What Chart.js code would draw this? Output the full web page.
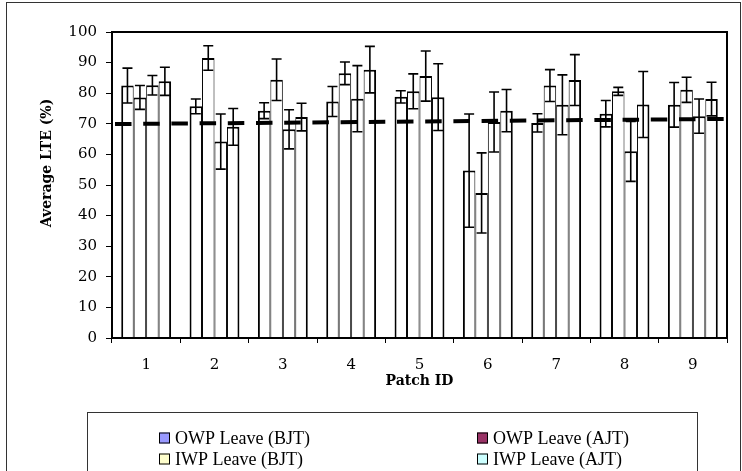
<!DOCTYPE html>
<html>
<head>
<meta charset="utf-8">
<script src="https://cdn.jsdelivr.net/npm/chart.js@4"></script>
<style>
  body { margin: 0; background: #fff; }
</style>
</head>
<body>
<canvas id="lteChart" width="742" height="471"></canvas>
<script>
const patches = ['1', '2', '3', '4', '5', '6', '7', '8', '9'];
const seriesNames = ['OWP Leave (BJT)', 'OWP Leave (AJT)', 'IWP Leave (BJT)', 'IWP Leave (AJT)'];
const legendColors = ['#9999FF', '#993366', '#FFFFCC', '#CCFFFF'];

const owpBjt = [82.5, 75.7, 74.3, 77.3, 78.8, 54.7, 70.3, 73.3, 76.2];
const owpAjt = [78.6, 91.5, 84.4, 86.5, 80.6, 47.4, 82.5, 80.6, 81.1];
const iwpBjt = [82.6, 64.2, 68.2, 78.2, 85.6, 70.6, 76.2, 61.0, 72.5];
const iwpAjt = [83.9, 69.0, 72.2, 87.7, 78.7, 74.3, 84.3, 76.3, 78.1];

const owpBjtErr = [5.7, 2.4, 2.6, 4.9, 2.0, 18.5, 3.0, 4.3, 7.3];
const owpAjtErr = [3.9, 4.0, 6.8, 3.7, 5.7, 13.1, 5.2, 1.3, 4.1];
const iwpBjtErr = [3.2, 9.0, 6.4, 10.8, 8.2, 9.8, 9.8, 9.8, 5.6];
const iwpAjtErr = [4.6, 6.0, 4.5, 7.6, 10.9, 6.9, 8.3, 10.8, 5.5];

// dashed reference line: value at the left and at the right edge of the plot
const refLineY = [69.9, 71.6];

const yTicks = [0, 10, 20, 30, 40, 50, 60, 70, 80, 90, 100];

const barValues = [owpBjt, owpAjt, iwpBjt, iwpAjt];
const barErrors = [owpBjtErr, owpAjtErr, iwpBjtErr, iwpAjtErr];

Chart.defaults.font.family = 'DejaVu Serif';
Chart.defaults.color = '#000';

const borders = [
  {left: 2, right: 1, top: 2, bottom: 0},
  {left: 1, right: 1, top: 2, bottom: 0},
  {left: 1, right: 1, top: 2, bottom: 0},
  {left: 1, right: 2, top: 2, bottom: 0}
];

const barSets = barValues.map(function (vals, i) {
  return {
    label: seriesNames[i],
    data: vals,
    backgroundColor: '#fff',
    borderColor: '#000',
    borderWidth: borders[i],
    borderSkipped: false,
    categoryPercentage: 0.73,
    barPercentage: 1.0
  };
});

const frameAndText = {
  id: 'frameAndText',
  beforeDraw(chart) {
    const c = chart.ctx;
    c.save();
    c.fillStyle = '#fff';
    c.fillRect(0, 0, chart.width, chart.height);
    c.restore();
  },
  afterDatasetsDraw(chart) {
    const c = chart.ctx;
    const y = chart.scales.y;
    const a = chart.chartArea;
    c.save();
    // dashed reference line
    c.strokeStyle = '#000';
    c.lineWidth = 4;
    c.setLineDash([16.5, 11.7]);
    c.lineDashOffset = 25.2;
    c.beginPath();
    c.moveTo(a.left, y.getPixelForValue(refLineY[0]));
    c.lineTo(a.right, y.getPixelForValue(refLineY[1]));
    c.stroke();
    c.setLineDash([]);
    // error bars
    c.lineWidth = 1.6;
    barErrors.forEach(function (errs, i) {
      const meta = chart.getDatasetMeta(i);
      meta.data.forEach(function (bar, j) {
        const v = barValues[i][j];
        const hi = y.getPixelForValue(v + errs[j]);
        const lo = y.getPixelForValue(v - errs[j]);
        c.beginPath();
        c.moveTo(bar.x, hi);
        c.lineTo(bar.x, lo);
        c.moveTo(bar.x - 5, hi);
        c.lineTo(bar.x + 5, hi);
        c.moveTo(bar.x - 5, lo);
        c.lineTo(bar.x + 5, lo);
        c.stroke();
      });
    });
    c.restore();
  },
  afterDraw(chart) {
    const c = chart.ctx;
    const a = chart.chartArea;
    c.save();
    // plot frame
    c.strokeStyle = '#000';
    c.lineWidth = 2;
    c.strokeRect(a.left, a.top, a.right - a.left, a.bottom - a.top);
    // outer frame
    c.strokeStyle = '#333';
    c.lineWidth = 1;
    c.strokeRect(6.5, 2.5, 734, 490);

    // axis titles
    c.fillStyle = '#000';
    c.font = 'bold 14px "DejaVu Serif"';
    c.textAlign = 'center';
    c.textBaseline = 'middle';
    c.fillText('Patch ID', (a.left + a.right) / 2, 381);
    c.translate(47, 163);
    c.rotate(-Math.PI / 2);
    c.fillText('Average LTE (%)', 0, 0);
    c.restore();

    // legend
    c.save();
    c.strokeStyle = '#333';
    c.lineWidth = 1;
    c.strokeRect(87.5, 412.5, 610, 80);
    const colX = [159, 477];
    const rowY = [438, 459];
    c.font = '18px "Liberation Serif"';
    c.textAlign = 'left';
    c.textBaseline = 'middle';
    seriesNames.forEach(function (name, i) {
      const x = colX[i % 2];
      const yy = rowY[Math.floor(i / 2)];
      c.fillStyle = legendColors[i];
      c.fillRect(x, yy - 5.5, 11, 11);
      c.strokeStyle = '#000';
      c.lineWidth = 1;
      c.strokeRect(x + 0.5, yy - 5, 10, 10);
      c.fillStyle = '#000';
      c.fillText(name, x + 16, yy + 1);
    });
    c.restore();
  }
};

new Chart(document.getElementById('lteChart'), {
  type: 'bar',
  data: {
    labels: patches,
    datasets: barSets
  },
  options: {
    responsive: false,
    animation: false,
    layout: { padding: { left: 0, top: 32, right: 15, bottom: 0 } },
    plugins: {
      legend: { display: false },
      tooltip: { enabled: false }
    },
    scales: {
      x: {
        offset: true,
        grid: { offset: true, drawOnChartArea: false, tickLength: 5, color: '#000', lineWidth: 1 },
        border: { display: true, color: '#000', width: 2 },
        ticks: { font: { size: 15 }, padding: 13, color: '#000' },
        afterFit(scale) { scale.height = 133; }
      },
      y: {
        min: 0,
        max: 100,
        afterBuildTicks(scale) { scale.ticks = yTicks.map(function (v) { return {value: v}; }); },
        grid: { drawOnChartArea: false, tickLength: 6, color: '#000', lineWidth: 1 },
        border: { display: true, color: '#000', width: 2 },
        ticks: { font: { size: 15 }, padding: 9, color: '#000' },
        afterFit(scale) { scale.width = 112; }
      }
    }
  },
  plugins: [frameAndText]
});
</script>
</body>
</html>
